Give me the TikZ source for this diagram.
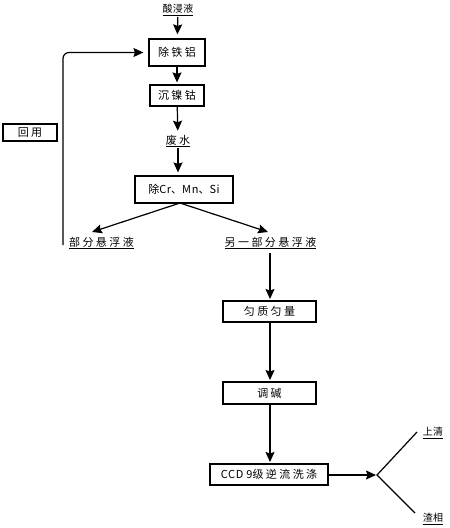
\documentclass[tikz,border=0pt]{standalone}
\usepackage{fontspec}
\usetikzlibrary{arrows.meta,calc}
\newfontfamily\cjkwide[LetterSpace=22]{Noto Sans CJK SC}
\newfontfamily\cjknarrow[LetterSpace=4]{Noto Sans CJK SC}
\newfontfamily\latinpart[LetterSpace=6]{Noto Sans CJK SC}
\begin{document}
\begin{tikzpicture}[x=1pt,y=-1pt,
  tbox/.style={draw,line width=1.2pt,inner sep=0pt,font=\cjkwide\fontsize{11}{12}\selectfont},
  lbl/.style={inner sep=1pt,font=\cjkwide\fontsize{11}{12}\selectfont},
  lbln/.style={inner sep=1pt,font=\cjknarrow\fontsize{10}{11}\selectfont},
  flow/.style={line width=1.2pt,-{Stealth[length=10pt,width=9pt,inset=1.5pt]}},
  plain/.style={line width=1.2pt}]
\useasboundingbox (0,0) rectangle (450,528);
% top column
\node[lbln] (t1) at (178,10) {\underline{酸浸液}};
\node[tbox,minimum width=56pt,minimum height=27pt] (b1) at (177,52.5) {除铁铝};
\node[tbox,minimum width=54pt,minimum height=21pt] (b2) at (177,95.5) {沉镍钴};
\node[lbl] (t2) at (178,141) {\underline{废水}};
\node[tbox,minimum width=98pt,minimum height=27pt] (b3) at (184,189.5) {除{\latinpart Cr}、{\latinpart Mn}、{\latinpart Si}};
\node[lbl] (t3) at (101.5,243) {\underline{部分悬浮液}};
\node[lbl] (t4) at (270.5,243) {\underline{另一部分悬浮液}};
\node[tbox,minimum width=54pt,minimum height=17pt] (r) at (30,132.5) {回用};
% lower column
\node[tbox,minimum width=93pt,minimum height=21pt] (b4) at (269.5,311.5) {匀质匀量};
\node[tbox,minimum width=93pt,minimum height=22pt] (b5) at (269.5,393) {调碱};
\node[tbox,minimum width=118pt,minimum height=21pt] (b6) at (269,474.5) {{\latinpart CCD 9}级逆流洗涤};
\coordinate (fork) at (377,475);
\node[lbln] (t5) at (433,433) {\underline{上清}};
\node[lbln] (t6) at (433,519) {\underline{渣相}};
% connectors
\draw[flow,shorten >=4pt] (t1) -- (b1);
\draw[flow,shorten >=2pt] (b1) -- (b2);
\draw[flow,shorten >=3pt] (b2) -- (t2);
\draw[flow,shorten >=3pt] (t2) -- (t2 |- b3.north);
\coordinate (split) at (180,203);
\draw[flow] (split) -- (92,232);
\draw[flow] (split) -- (268,232);
\draw[flow,rounded corners=6pt,shorten >=5pt] (63,245) -- (63,52.5) -- (b1.west);
\draw[flow,shorten >=2pt] (270,253) -- (270,301);
\draw[flow,shorten >=2pt] (b4.south -| 270,0) -- (270,382);
\draw[flow,shorten >=2pt] (b5.south -| 270,0) -- (270,464);
\draw[flow,shorten >=1pt] (b6.east |- fork) -- (fork);
\draw[plain] (417,432) -- (fork) -- (415,513);
\end{tikzpicture}
\end{document}
